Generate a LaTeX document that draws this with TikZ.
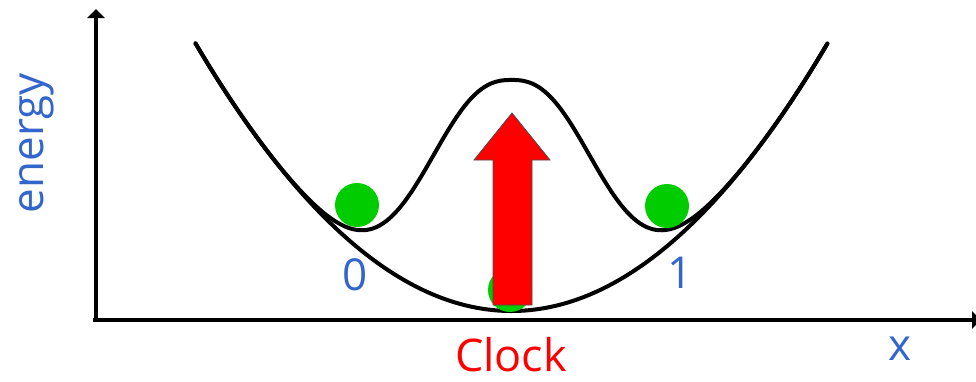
\documentclass[tikz,border=0pt]{standalone}
\usepackage{fontspec}
\setmainfont{Open Sans}
\usetikzlibrary{arrows.meta}
\definecolor{lblue}{RGB}{51,102,204}
\definecolor{ballgreen}{RGB}{0,204,0}
\definecolor{arrred}{RGB}{255,0,0}
\begin{document}
\begin{tikzpicture}[x=1pt,y=-1pt,
  axis/.style={line width=4pt,-{Triangle[width=17pt,length=9pt]}},
  curve/.style={line width=4pt,line cap=round,line join=round},
  ball/.style={circle,fill=ballgreen,minimum size=44pt,inner sep=0pt},
  lbl/.style={text=lblue,font=\fontsize{44}{44}\selectfont,inner sep=0pt},
  redlbl/.style={text=arrred,font=\fontsize{45}{45}\selectfont,inner sep=0pt}]
\useasboundingbox (0,0) rectangle (976,381);
\coordinate (O) at (96,320);
\coordinate (Ytop) at (96,9);
\coordinate (Xend) at (981,320);
\coordinate (Xstart) at (93,320);
\draw[axis] (O) -- (Ytop);
\draw[axis] (Xstart) -- (Xend);
% single well
\draw[curve] plot[domain=-3.16:3.16,samples=120,smooth] ({511.5+100*\x},{311-26.8*\x*\x});
% double well
\draw[curve] plot[domain=-3.16:3.16,samples=200,smooth] ({511.5+100*\x},{311-26.8*\x*\x-231*exp(-(abs(\x)/1.037)^2.4)});
% balls
\node[ball] (b0) at (357,205) {};
\node[ball] (b1) at (667,206) {};
\node[ball] (bc) at (510,290) {};
% red arrow
\filldraw[fill=arrred,draw=black!70,line width=0.8pt]
  (493,305) -- (532,305) -- (532,160) -- (550,160) -- (512,113) -- (474,160) -- (493,160) -- cycle;
% labels
\node[lbl,anchor=base] (l0) at (355,290) {0};
\node[lbl,anchor=base] (l1) at (680,288) {1};
\node[lbl,anchor=base] (lx) at (900,360) {x};
\node[lbl,anchor=base,rotate=90] (le) at (43,143) {energy};
\node[redlbl,anchor=base] (lc) at (511,371) {Clock};
\end{tikzpicture}
\end{document}
